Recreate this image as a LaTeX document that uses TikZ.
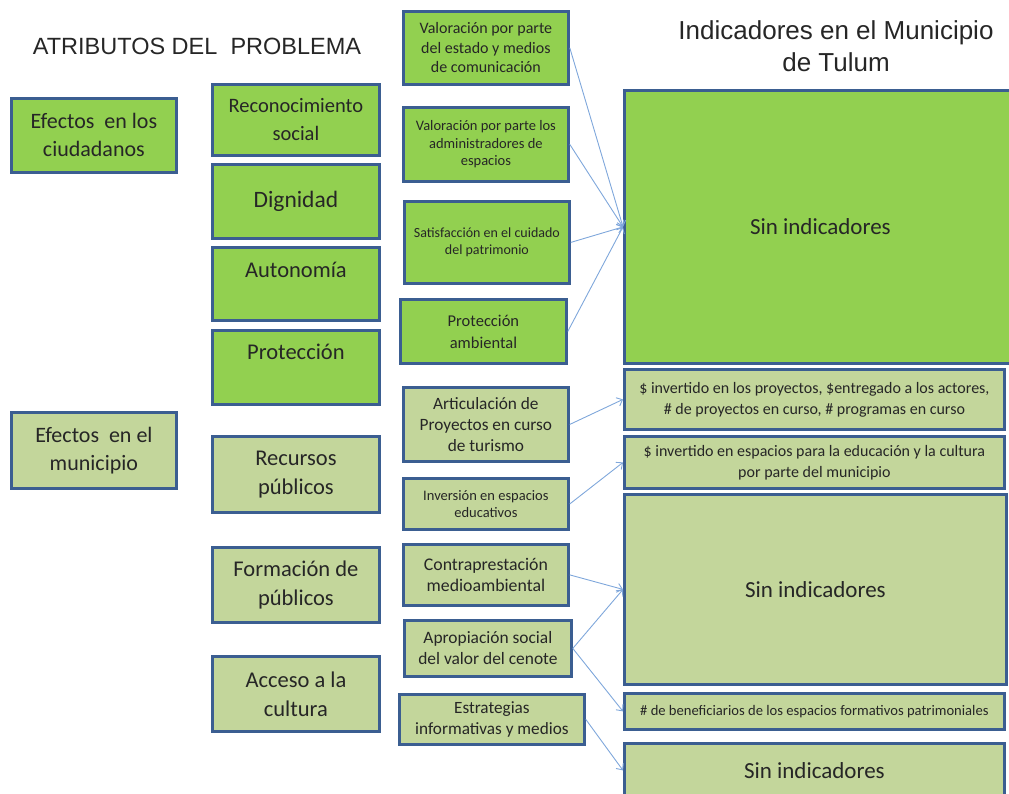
\documentclass[tikz,border=0pt]{standalone}
\usepackage{fontspec}
\setmainfont{Carlito}
\newfontfamily\titlefont{Liberation Sans}
\usetikzlibrary{arrows.meta, positioning}
\definecolor{verdeA}{HTML}{92D050}
\definecolor{verdeB}{HTML}{C3D69B}
\definecolor{borde}{HTML}{3B5E91}
\definecolor{flecha}{HTML}{7FA7DB}
\newcommand{\fs}[2]{\fontsize{#1}{#2}\selectfont}

\begin{document}
\begin{tikzpicture}[
        x=1pt, y=-1pt,
        box/.style={draw=borde, line width=2.8pt, align=center, inner sep=2pt, anchor=north west, text=black!85},
        fuerte/.style={box, fill=verdeA},
        suave/.style={box, fill=verdeB},
        titulo/.style={font=\titlefont, align=center, text=black!85},
        arr/.style={-{Straight Barb[length=5pt, width=9pt]}, draw=flecha, line width=0.9pt},
    ]
        \useasboundingbox (0,0) rectangle (1009,793);
        \clip (0,0) rectangle (1009,793);

        % --- Titles ---
        \node[titulo, font=\titlefont\fs{23.5}{30}] (atrib) at (197,46) {ATRIBUTOS DEL~ PROBLEMA};
        \node[titulo, font=\titlefont\fs{26}{32}] (indic) at (836,46) {Indicadores en el Municipio\\de Tulum};

        % --- Column 1: effects ---
        \node[fuerte, font=\fs{22}{28}, minimum width=165pt, minimum height=74pt] (ciud) at (10,97) {Efectos~ en los\\ciudadanos};
        \node[suave, font=\fs{22}{28}, minimum width=165pt, minimum height=76pt] (muni) at (10,411) {Efectos~ en el\\municipio};

        % --- Column 2: attributes ---
        \node[fuerte, font=\fs{20.5}{28}, minimum width=167pt, minimum height=71pt] (recon) at (211,83) {Reconocimiento\\social};
        \node[fuerte, font=\fs{23.5}{28}, minimum width=167pt, minimum height=74pt] (dign) at (211,163) {Dignidad};
        \node[fuerte, font=\fs{22.5}{28}, minimum width=167pt, minimum height=73pt, text depth=28pt] (auton) at (211,246) {Autonomía};
        \node[fuerte, font=\fs{22.5}{28}, minimum width=167pt, minimum height=74pt, text depth=32pt] (protec) at (211,329) {Protección};
        \node[suave, font=\fs{22.5}{29}, minimum width=167pt, minimum height=76pt] (recur) at (211,435) {Recursos\\públicos};
        \node[suave, font=\fs{22.5}{29}, minimum width=167pt, minimum height=75pt] (forma) at (211,546) {Formación de\\públicos};
        \node[suave, font=\fs{22.5}{29}, minimum width=167pt, minimum height=75pt] (acceso) at (211,655) {Acceso a la\\cultura};

        % --- Column 3: dimensions ---
        \node[fuerte, font=\fs{16}{19.5}, minimum width=165pt, minimum height=73pt] (valest) at (402,10) {Valoración por parte\\del estado y medios\\de comunicación};
        \node[fuerte, font=\fs{14.5}{17.5}, minimum width=165pt, minimum height=74pt] (valadm) at (402,106) {Valoración por parte los\\administradores de\\espacios};
        \node[fuerte, font=\fs{14}{17.5}, minimum width=165pt, minimum height=82pt] (satis) at (403,200) {Satisfacción en el cuidado\\del patrimonio};
        \node[fuerte, font=\fs{16.5}{22}, minimum width=166pt, minimum height=64pt] (protam) at (399,298) {Protección\\ambiental};
        \node[suave, font=\fs{17.3}{21}, minimum width=165pt, minimum height=74pt] (artic) at (402,386) {Articulación de\\Proyectos en curso\\de turismo};
        \node[suave, font=\fs{14.5}{17}, minimum width=165pt, minimum height=51pt] (inver) at (402,477) {Inversión en espacios\\educativos};
        \node[suave, font=\fs{17.8}{21}, minimum width=165pt, minimum height=61pt] (contra) at (402,543) {Contraprestación\\medioambiental};
        \node[suave, font=\fs{17.4}{21}, minimum width=167pt, minimum height=56pt] (apro) at (403,619) {Apropiación social\\del valor del cenote};
        \node[suave, font=\fs{17.2}{21}, minimum width=185pt, minimum height=50pt] (estra) at (398,693) {Estrategias\\informativas y medios};

        % --- Column 4: indicators ---
        \node[fuerte, font=\fs{23}{26}, minimum width=392pt, minimum height=273pt] (sinA) at (623,89) {Sin indicadores};
        \node[suave, font=\fs{16}{21}, minimum width=380pt, minimum height=60pt] (inproy) at (623,368) {\$ invertido en los proyectos, \$entregado a los actores,\\\# de proyectos en curso, \# programas en curso};
        \node[suave, font=\fs{16}{21}, minimum width=380pt, minimum height=52pt] (inesp) at (623,435) {\$ invertido en espacios para la educación y la cultura\\por parte del municipio};
        \node[suave, font=\fs{23}{26}, minimum width=382pt, minimum height=190pt] (sinB) at (623,493) {Sin indicadores};
        \node[suave, font=\fs{14.6}{16}, minimum width=380pt, minimum height=36pt] (benef) at (623,692) {\# de beneficiarios de los espacios formativos patrimoniales};
        \node[suave, font=\fs{23}{26}, minimum width=380pt, minimum height=54pt] (sinC) at (623,742) {Sin indicadores};

        % --- Links to indicators ---
        \draw[arr] (valest.east) -- (sinA.west);
        \draw[arr] (valadm.east) -- (sinA.west);
        \draw[arr] (satis.east) -- (sinA.west);
        \draw[arr] (protam.east) -- (sinA.west);
        \draw[arr] (artic.east) -- (inproy.west);
        \draw[arr] (inver.east) -- (inesp.west);
        \draw[arr] (contra.east) -- (sinB.west);
        \draw[arr] (apro.east) -- (sinB.west);
        \draw[arr] (apro.east) -- (benef.west);
        \draw[arr] (estra.east) -- (sinC.west);

    \end{tikzpicture}
\end{document}
